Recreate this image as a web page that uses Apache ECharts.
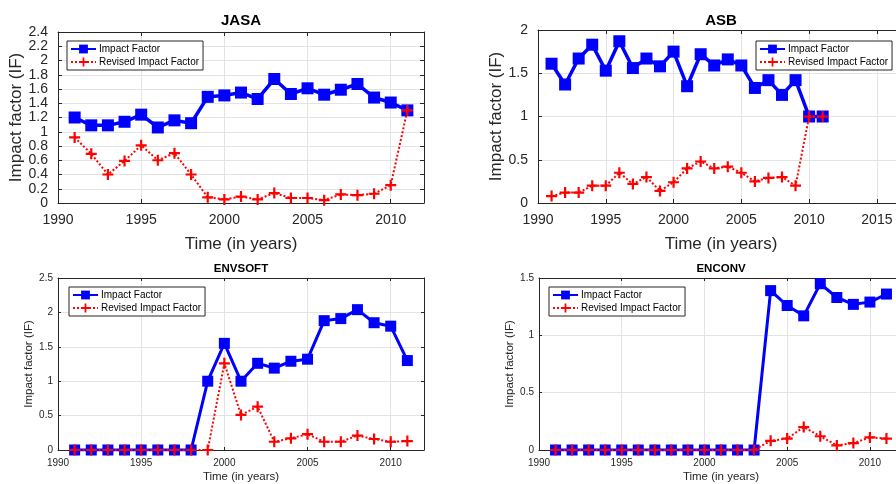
<!DOCTYPE html>
<html>
<head>
<meta charset="utf-8">
<script src="https://cdn.jsdelivr.net/npm/echarts@6/dist/echarts.min.js"></script>
<style>
  html, body { margin: 0; padding: 0; overflow: hidden; background: #fff; }
  #chart { width: 960px; height: 484px; }
</style>
</head>
<body>
<div id="chart"></div>
<script>
const years = [1991, 1992, 1993, 1994, 1995, 1996, 1997, 1998, 1999, 2000, 2001,
  2002, 2003, 2004, 2005, 2006, 2007, 2008, 2009, 2010, 2011];

const jasaIF = [1.20, 1.09, 1.09, 1.14, 1.24, 1.06, 1.16, 1.12, 1.49, 1.51, 1.55,
  1.46, 1.74, 1.53, 1.61, 1.52, 1.59, 1.67, 1.48, 1.41, 1.30];
const jasaRIF = [0.92, 0.69, 0.40, 0.59, 0.81, 0.60, 0.70, 0.40, 0.08, 0.05, 0.09,
  0.05, 0.14, 0.07, 0.07, 0.04, 0.12, 0.11, 0.13, 0.25, 1.30];

const asbIF = [1.61, 1.37, 1.67, 1.83, 1.53, 1.87, 1.56, 1.67, 1.58, 1.75, 1.35,
  1.72, 1.59, 1.66, 1.59, 1.33, 1.42, 1.25, 1.42, 1.00, 1.00];
const asbRIF = [0.08, 0.12, 0.12, 0.20, 0.20, 0.35, 0.22, 0.30, 0.14, 0.24, 0.40,
  0.48, 0.40, 0.42, 0.35, 0.25, 0.29, 0.30, 0.20, 1.00, 1.00];

const envsoftIF = [0, 0, 0, 0, 0, 0, 0, 0, 1.00, 1.55, 1.00,
  1.26, 1.19, 1.29, 1.32, 1.88, 1.91, 2.04, 1.85, 1.80, 1.30];
const envsoftRIF = [0, 0, 0, 0, 0, 0, 0, 0, 0, 1.26, 0.51,
  0.63, 0.12, 0.17, 0.23, 0.12, 0.12, 0.21, 0.16, 0.12, 0.13];

const enconvIF = [0, 0, 0, 0, 0, 0, 0, 0, 0, 0, 0,
  0, 0, 1.39, 1.26, 1.17, 1.45, 1.33, 1.27, 1.29, 1.36];
const enconvRIF = [0, 0, 0, 0, 0, 0, 0, 0, 0, 0, 0,
  0, 0, 0.08, 0.10, 0.20, 0.12, 0.04, 0.06, 0.11, 0.10];

const titles = ['JASA', 'ASB', 'ENVSOFT', 'ENCONV'];
const yMax = [2.4, 2, 2.5, 1.5];
const yStep = [0.2, 0.5, 0.5, 0.5];
const xMax = [2012, 2017, 2012, 2012];

// panel layout (px)
const panels = [
  { left: 58, top: 32, width: 366, height: 171, big: true, legend: [67, 41] },
  { left: 538, top: 30, width: 366, height: 173, big: true, legend: [756, 41] },
  { left: 58, top: 278, width: 366, height: 172, big: false, legend: [69, 287] },
  { left: 539, top: 278, width: 364, height: 172, big: false, legend: [549, 287] }
];
const ifSeries = [jasaIF, asbIF, envsoftIF, enconvIF];
const rifSeries = [jasaRIF, asbRIF, envsoftRIF, enconvRIF];

const AX = '#262626';
const PLUS = 'path://M4,0H6V4H10V6H6V10H4V6H0V4H4Z';
const FONT = 'Liberation Sans, Arial, sans-serif';

function pairs(vals) {
  return years.map((y, i) => [y, vals[i]]);
}

const grid = [], xAxis = [], yAxis = [], series = [], title = [], legend = [];

panels.forEach((p, i) => {
  const tickFont = p.big ? 14 : 10;
  const nameFont = p.big ? 17 : 11.5;
  grid.push({
    left: p.left, top: p.top, width: p.width, height: p.height,
    outerBoundsMode: 'none', containLabel: false
  });

  title.push({
    text: titles[i],
    left: p.left + p.width / 2,
    top: p.big ? 13 : 263,
    textAlign: 'center',
    padding: 0,
    textStyle: { fontFamily: FONT, fontWeight: 'bold', fontSize: p.big ? 15 : 11.5, color: '#000' }
  });

  legend.push({
    left: p.legend[0],
    top: p.legend[1],
    orient: 'vertical',
    data: ['Impact Factor', 'Revised Impact Factor'],
    itemWidth: 25,
    itemHeight: 11,
    itemGap: 3,
    padding: [3, 4, 3, 3],
    borderColor: AX,
    borderWidth: 1,
    backgroundColor: '#fff',
    selectedMode: false,
    textStyle: { fontFamily: FONT, fontSize: 10, color: '#000', padding: [0, 0, 0, -2] }
  });

  xAxis.push({
    type: 'value', gridIndex: i, min: 1990, max: xMax[i], interval: 5,
    name: 'Time (in years)', nameLocation: 'middle', nameGap: p.big ? 33 : 21,
    nameTextStyle: { fontFamily: FONT, fontSize: nameFont, color: AX },
    axisLine: { show: true, onZero: false, lineStyle: { color: AX, width: 1 } },
    axisTick: { show: true, inside: true, length: p.big ? 4 : 3, lineStyle: { color: AX } },
    axisLabel: {
      fontFamily: FONT, fontSize: tickFont, color: AX, margin: p.big ? 10 : 8,
      showMaxLabel: xMax[i] % 5 === 0,
      formatter: v => (v % 5 === 0 ? String(v) : '')
    },
    splitLine: { show: true, lineStyle: { color: '#e3e3e3', width: 1 } }
  });

  yAxis.push({
    type: 'value', gridIndex: i, min: 0, max: yMax[i], interval: yStep[i],
    name: 'Impact factor (IF)', nameLocation: 'middle', nameGap: p.big ? 30 : 22,
    nameTextStyle: { fontFamily: FONT, fontSize: nameFont, color: AX },
    axisLine: { show: true, onZero: false, lineStyle: { color: AX, width: 1 } },
    axisTick: { show: true, inside: true, length: p.big ? 4 : 3, lineStyle: { color: AX } },
    axisLabel: { fontFamily: FONT, fontSize: tickFont, color: AX, margin: p.big ? 10 : 5 },
    splitLine: { show: true, lineStyle: { color: '#e3e3e3', width: 1 } }
  });

  series.push({
    name: 'Impact Factor', type: 'line', xAxisIndex: i, yAxisIndex: i,
    data: pairs(ifSeries[i]),
    symbol: 'rect', symbolSize: p.big ? 12 : 11,
    itemStyle: { color: '#0000ff' },
    lineStyle: { color: '#0000ff', width: p.big ? 3.5 : 3 },
    animation: false, z: 2
  });
  series.push({
    name: 'Revised Impact Factor', type: 'line', xAxisIndex: i, yAxisIndex: i,
    data: pairs(rifSeries[i]),
    symbol: PLUS, symbolSize: 11,
    itemStyle: { color: '#ff0000' },
    lineStyle: { color: '#ff0000', width: 2, type: [2, 2] },
    animation: false, z: 3
  });
});

// box axes (top / right) like MATLAB "box on"
panels.forEach((p, i) => {
  xAxis.push({
    type: 'value', gridIndex: i, position: 'top', min: 1990, max: xMax[i], interval: 5,
    axisLine: { show: true, onZero: false, lineStyle: { color: AX, width: 1 } },
    axisTick: { show: true, inside: true, length: p.big ? 4 : 3, lineStyle: { color: AX } },
    axisLabel: { show: false }, splitLine: { show: false }
  });
  yAxis.push({
    type: 'value', gridIndex: i, position: 'right', min: 0, max: yMax[i], interval: yStep[i],
    axisLine: { show: true, onZero: false, lineStyle: { color: AX, width: 1 } },
    axisTick: { show: true, inside: true, length: p.big ? 4 : 3, lineStyle: { color: AX } },
    axisLabel: { show: false }, splitLine: { show: false }
  });
});

const myChart = echarts.init(document.getElementById('chart'));
myChart.setOption({
  animation: false,
  title: title,
  legend: legend,
  grid: grid,
  xAxis: xAxis,
  yAxis: yAxis,
  series: series
});
</script>
</body>
</html>
